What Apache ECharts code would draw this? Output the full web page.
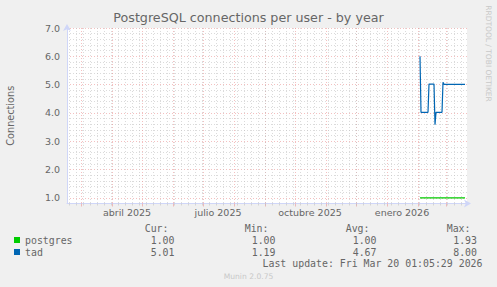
<!DOCTYPE html>
<html>
<head>
<meta charset="utf-8">
<script src="https://cdn.jsdelivr.net/npm/echarts@6/dist/echarts.min.js"></script>
<style>
html,body{margin:0;padding:0;background:#F0F0F0;}
#chart{width:497px;height:287px;}
</style>
</head>
<body>
<div id="chart"></div>
<script>
// ---- data ----
const axisStart = '2025-02-15';      // first day on the x axis
const axisDays = 400;                // span of the yearly graph in days
const monthNames = ['enero','febrero','marzo','abril','mayo','junio','julio','agosto','septiembre','octubre','noviembre','diciembre'];
const labelMonths = [0, 3, 6, 9];    // months that get a tick label
const seriesNames = ['postgres', 'tad'];
const seriesColors = ['#00CC00', '#0066B3'];
const dataStart = '2026-02-03';      // first day with samples
const postgresValues = [1.00,1.00,1.00,1.00,1.00,1.00,1.00,1.00,1.00,1.00,1.00,1.00,1.00,1.00,1.00,1.00,1.00,1.00,1.00,1.00,1.00,1.00,1.00,1.00,1.00,1.00,1.00,1.00,1.00,1.00,1.00,1.00,1.00,1.00,1.00,1.00,1.00,1.00,1.00,1.00,1.00,1.00,1.00,1.00,1.00,1.00];
const tadValues = [6.00,
  4.02,4.02,4.02,4.02,4.02,4.02,4.02,4.02,
  5.02,5.02,5.02,5.02,5.02,5.02,
  3.58,
  4.02,4.02,4.02,4.02,4.02,4.02,4.02,
  5.08,
  5.01,5.01,5.01,5.01,5.01,5.01,5.01,5.01,5.01,5.01,5.01,5.01,5.01,5.01,5.01,5.01,5.01,5.01,5.01,5.01,5.01,5.01];
const statHeaders = ['Cur:', 'Min:', 'Avg:', 'Max:'];
const curValues = ['1.00', '5.01'];
const minValues = ['1.00', '1.19'];
const avgValues = ['1.00', '4.67'];
const maxValues = ['1.93', '8.00'];
const lastUpdate = 'Last update: Fri Mar 20 01:05:29 2026';
const titleText = 'PostgreSQL connections per user - by year';
const yName = 'Connections';
const yMin = 0.8, yMax = 7.0, yStep = 0.2;

// ---- build ----
const DAY = 86400000;
function parseDay(s){ const p = s.split('-').map(Number); return Date.UTC(p[0], p[1]-1, p[2]); }
function fmt(t){ return new Date(t).toISOString().slice(0,10); }
const t0 = parseDay(axisStart);
const days = [];
for (let i = 0; i <= axisDays; i++) days.push(fmt(t0 + i*DAY));
function dayOf(s){ return new Date(parseDay(s)); }

function seriesData(vals){
  const s = parseDay(dataStart);
  return vals.map((v, i) => [fmt(s + i*DAY), v]);
}

const FONT = 'DejaVu Sans';
const MONO = 'DejaVu Sans Mono';
const TXT = '#666666';
const AXIS = '#CFD6F8';
const MAJOR = 'rgba(235,140,140,0.55)';
const MINOR = 'rgba(190,190,190,0.55)';

const isMonthStart = (i, v) => dayOf(v).getUTCDate() === 1;
const isMonday = (i, v) => dayOf(v).getUTCDay() === 1;
const isLabelDay = (i, v) => { const d = dayOf(v); return d.getUTCDate() === 16 && labelMonths.indexOf(d.getUTCMonth()) >= 0; };

const statCols = [curValues, minValues, avgValues, maxValues];
const headerRight = [168.5, 268.5, 369.5, 470.5];
const valueRight = [174.5, 275.5, 376.5, 477];
const rowY = [240, 252];
const graphics = [];
statHeaders.forEach((h, c) => {
  graphics.push({type:'text', x: headerRight[c], y: 228, silent:true,
    style:{text:h, align:'right', verticalAlign:'middle', fontFamily:MONO, fontSize:9.9, fill:TXT}});
  statCols[c].forEach((v, r) => {
    graphics.push({type:'text', x: valueRight[c], y: rowY[r], silent:true,
      style:{text:v, align:'right', verticalAlign:'middle', fontFamily:MONO, fontSize:9.9, fill:TXT}});
  });
});
graphics.push({type:'text', x: 482.5, y: 263.5, silent:true,
  style:{text:lastUpdate, align:'right', verticalAlign:'middle', fontFamily:MONO, fontSize:9.9, fill:TXT}});
graphics.push({type:'text', x: 248.5, y: 276.5, silent:true,
  style:{text:'Munin 2.0.75', align:'center', verticalAlign:'middle', fontFamily:FONT, fontSize:7.6, fill:'#C8C8C8'}});
graphics.push({type:'text', x: 488, y: 53.5, rotation: -Math.PI/2, silent:true,
  style:{text:'RRDTOOL / TOBI OETIKER', align:'center', verticalAlign:'middle', fontFamily:FONT, fontSize:7.5, fill:'#C8C8C8'}});

const chart = echarts.init(document.getElementById('chart'), null, {renderer:'svg', width:497, height:287});
chart.setOption({
  animation: false,
  backgroundColor: '#F0F0F0',
  title: {
    text: titleText, left: 'center', top: 11, padding: 0,
    textStyle: {fontFamily: FONT, fontSize: 12.7, fontWeight: 'normal', color: TXT}
  },
  legend: {
    orient: 'vertical', left: 14, top: 234, padding: 0, itemGap: 0,
    itemWidth: 6, itemHeight: 6, icon: 'rect', selectedMode: false,
    textStyle: {fontFamily: MONO, fontSize: 9.9, color: TXT, lineHeight: 12},
    data: seriesNames
  },
  grid: {
    left: 67, top: 28, width: 400, height: 175.5,
    show: true, backgroundColor: '#FFFFFF', borderWidth: 0,
    outerBoundsMode: 'none'
  },
  xAxis: [{
    type: 'category', data: days, boundaryGap: false,
    axisLine: {show: true, lineStyle: {color: AXIS, width: 1}, symbol: ['none', 'arrow'], symbolSize: [6, 7], symbolOffset: [0, 4]},
    axisTick: {show: true, interval: isMonthStart, length: 3, lineStyle: {color: MAJOR}},
    axisLabel: {show: true, interval: isLabelDay, margin: 4, fontFamily: FONT, fontSize: 9.5, color: TXT,
      formatter: v => { const d = dayOf(v); return monthNames[d.getUTCMonth()] + ' ' + d.getUTCFullYear(); }},
    splitLine: {show: true, interval: isMonthStart, lineStyle: {color: MAJOR, type: [1, 2], width: 1}}
  }, {
    type: 'category', data: days, boundaryGap: false, position: 'bottom',
    axisLine: {show: false},
    axisTick: {show: true, interval: isMonday, length: 2, lineStyle: {color: MINOR}},
    axisLabel: {show: false},
    splitLine: {show: true, interval: isMonday, lineStyle: {color: MINOR, type: [1, 2], width: 1}}
  }],
  yAxis: {
    type: 'value', min: yMin, max: yMax, interval: yStep,
    name: yName, nameLocation: 'middle', nameRotate: 90, nameGap: 52,
    nameTextStyle: {fontFamily: FONT, fontSize: 9.7, color: TXT},
    axisLine: {show: true, lineStyle: {color: AXIS, width: 1}, symbol: ['none', 'arrow'], symbolSize: [6, 7], symbolOffset: [0, 4]},
    axisTick: {show: false},
    axisLabel: {margin: 7, fontFamily: FONT, fontSize: 9.5, color: TXT,
      formatter: v => Math.abs(v - Math.round(v)) < 1e-6 ? Math.round(v).toFixed(1) : ''},
    splitLine: {show: true, lineStyle: {color: [MINOR, MAJOR, MINOR, MINOR, MINOR], type: [1, 2], width: 1}}
  },
  series: [{
    name: seriesNames[0], type: 'line', xAxisIndex: 0, data: seriesData(postgresValues),
    showSymbol: false, symbol: 'none', color: seriesColors[0], lineStyle: {width: 1.2, color: seriesColors[0]}, z: 3
  }, {
    name: seriesNames[1], type: 'line', xAxisIndex: 0, data: seriesData(tadValues),
    showSymbol: false, symbol: 'none', color: seriesColors[1], lineStyle: {width: 1.2, color: seriesColors[1]}, z: 4
  }],
  graphic: graphics
});
</script>
</body>
</html>
